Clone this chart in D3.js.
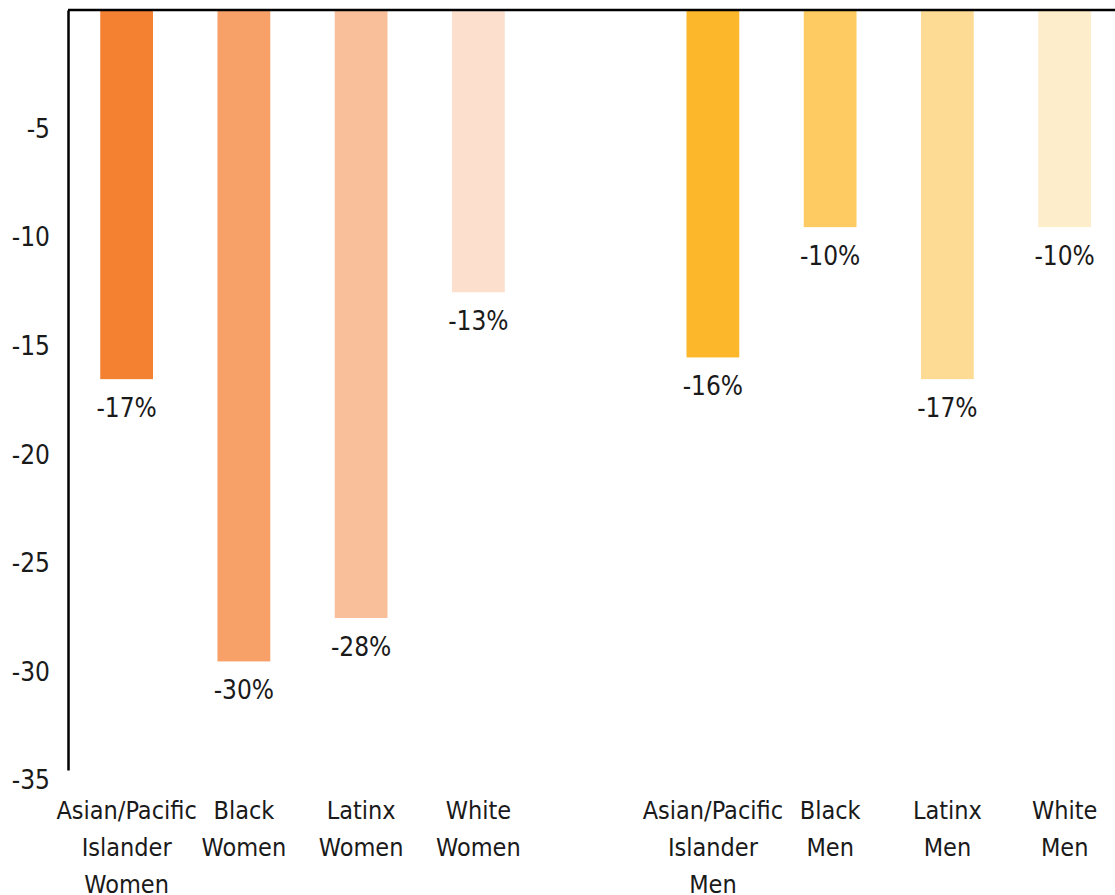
<!DOCTYPE html>
<html>
<head>
<meta charset="utf-8">
<script src="https://cdn.jsdelivr.net/npm/d3@7"></script>
<style>
  body { margin: 0; background: #fff; }
  svg text { font-family: "DejaVu Sans Condensed", "Liberation Sans Narrow", sans-serif; font-stretch: condensed; fill: #1a1a1a; }
</style>
</head>
<body>
<svg id="chart" width="1115" height="895"></svg>
<script>
// categories (the empty one is the gap between women and men)
var categories = ["apiW", "blackW", "latinxW", "whiteW", "gap", "apiM", "blackM", "latinxM", "whiteM"];
var labels = [
    ["Asian/Pacific", "Islander", "Women"], ["Black", "Women"], ["Latinx", "Women"], ["White", "Women"],
    [],
    ["Asian/Pacific", "Islander", "Men"], ["Black", "Men"], ["Latinx", "Men"], ["White", "Men"]
];
var values = [-17, -30, -28, -13, null, -16, -10, -17, -10];
var colors = ["#F48032", "#F7A068", "#F9BF9B", "#FCDFCC", null, "#FCB72B", "#FDCB61", "#FDDB95", "#FEEDCA"];
var yTicks = [-5, -10, -15, -20, -25, -30, -35];

var svg = d3.select("#chart");
var marginLeft = 68, marginTop = 10, plotBottom = 770;

var x = d3.scaleBand()
    .domain(categories)
    .range([marginLeft, marginLeft + 9 * 117.25])
    .paddingInner(0.55)
    .paddingOuter(0.275);

var y = d3.scaleLinear()
    .domain([-35, 0])
    .range([plotBottom, marginTop]);

var data = categories.map(function(c, i) {
    return { key: c, value: values[i], color: colors[i], label: labels[i] };
});
var barData = data.filter(function(d) { return d.value !== null; });

// bars
svg.selectAll("rect.bar")
    .data(barData)
    .enter().append("rect")
    .attr("class", "bar")
    .attr("x", function(d) { return x(d.key); })
    .attr("y", y(0))
    .attr("width", x.bandwidth())
    .attr("height", function(d) { return y(d.value) - y(0); })
    .attr("fill", function(d) { return d.color; });

// value labels
svg.selectAll("text.val")
    .data(barData)
    .enter().append("text")
    .attr("class", "val")
    .attr("x", function(d) { return x(d.key) + x.bandwidth() / 2; })
    .attr("y", function(d) { return y(d.value) + 38; })
    .attr("text-anchor", "middle")
    .style("font-size", "26px")
    .text(function(d) { return d.value + "%"; });

// y axis (no tick marks, labels sit a little below their value)
var yAxis = svg.append("g")
    .attr("transform", "translate(" + marginLeft + ",0)")
    .call(d3.axisLeft(y).tickValues(yTicks).tickSize(0).tickPadding(18)
        .tickFormat(function(d) { return String(d); }));
yAxis.select(".domain").attr("stroke", "#000").attr("stroke-width", 2.5);
yAxis.selectAll(".tick text")
    .attr("dy", "0.72em")
    .attr("fill", "#1a1a1a")
    .style("font-size", "26px")
    .style("font-family", null);

// zero line along the top
svg.append("line")
    .attr("x1", marginLeft).attr("x2", 1115)
    .attr("y1", y(0)).attr("y2", y(0))
    .attr("stroke", "#000").attr("stroke-width", 2.5);

// category labels
var cat = svg.selectAll("text.cat")
    .data(data)
    .enter().append("text")
    .attr("class", "cat")
    .attr("text-anchor", "middle")
    .style("font-size", "25px")
    .attr("transform", function(d) { return "translate(" + (x(d.key) + x.bandwidth() / 2) + ",819)"; });

cat.selectAll("tspan")
    .data(function(d) { return d.label; })
    .enter().append("tspan")
    .attr("x", 0)
    .attr("y", function(d, i) { return i * 37; })
    .text(function(d) { return d; });
</script>
</body>
</html>
